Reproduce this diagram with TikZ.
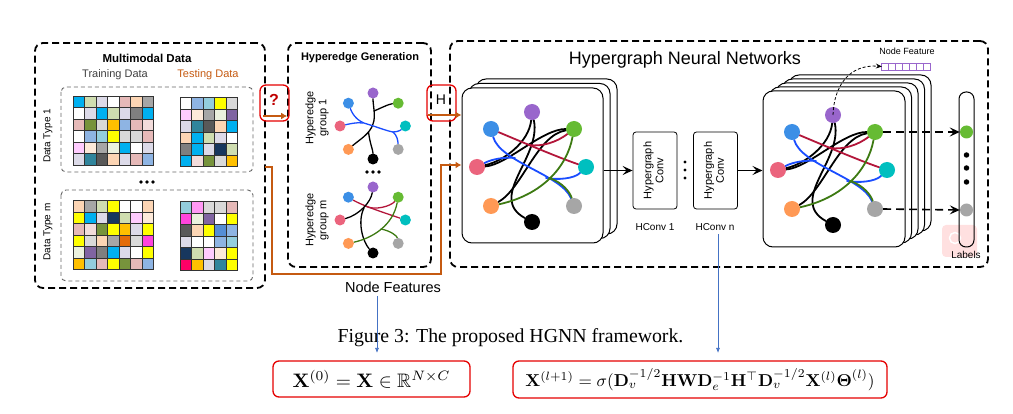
\documentclass[tikz,border=0pt]{standalone}
\usepackage{amsmath,amssymb,graphicx}
\usepackage[no-math]{fontspec}
\setmainfont{Liberation Serif}
\setsansfont{Liberation Sans}
\usetikzlibrary{arrows.meta,calc}
\pgfdeclarelayer{back}
\pgfdeclarelayer{edges}
\pgfsetlayers{back,edges,main}

% matrix cell colours
\definecolor{Qc}{HTML}{00B0F0}
\definecolor{Qg}{HTML}{CFDDB0}
\definecolor{Ql}{HTML}{DCDAE8}
\definecolor{Qw}{HTML}{FFFFFF}
\definecolor{Qp}{HTML}{E6B9B8}
\definecolor{Qe}{HTML}{FCD5B4}
\definecolor{Qj}{HTML}{FDE9D9}
\definecolor{Qy}{HTML}{A6A6A6}
\definecolor{Qd}{HTML}{595959}
\definecolor{Qf}{HTML}{7F7F7F}
\definecolor{Qo}{HTML}{77933C}
\definecolor{Qa}{HTML}{FFC000}
\definecolor{Qb}{HTML}{8EB4E3}
\definecolor{Qt}{HTML}{31859C}
\definecolor{Qk}{HTML}{D9D9D9}
\definecolor{Qs}{HTML}{F2DCDB}
\definecolor{Qm}{HTML}{FFCCFF}
\definecolor{QM}{HTML}{FF99F5}
\definecolor{Qr}{HTML}{FF44DD}
\definecolor{Qu}{HTML}{FFFF00}
\definecolor{Qn}{HTML}{17375E}
\definecolor{Qv}{HTML}{8064A2}
\definecolor{Qx}{HTML}{E46C0A}
\definecolor{Qh}{HTML}{93CDDD}
\definecolor{Qi}{HTML}{EBF1DE}
\definecolor{Qq}{HTML}{FF0066}
\definecolor{Qz}{HTML}{558ED5}
% vertex and hyperedge colours
\definecolor{hpu}{HTML}{9966CC}
\definecolor{hbl}{HTML}{3C8FE6}
\definecolor{hgr}{HTML}{66BB33}
\definecolor{hpk}{HTML}{EB647D}
\definecolor{hcy}{HTML}{00BFBF}
\definecolor{hor}{HTML}{FF9955}
\definecolor{hgy}{HTML}{A6A6A6}
\definecolor{hbk}{HTML}{000000}
\definecolor{ered}{HTML}{B3163A}
\definecolor{eblue}{HTML}{1A4DFF}
\definecolor{egreen}{HTML}{3D7A12}
\definecolor{brn}{HTML}{C55A11}
\definecolor{arrblue}{HTML}{4472C4}

\newcommand{\datagrid}[3]{%
  \foreach \row [count=\j] in {#3}{%
    \foreach \cl [count=\i] in \row{%
      \filldraw[fill=Q\cl, draw=black!80, line width=0.9pt] ({#1+(\i-1)*11.5},{#2+(\j-1)*11.5}) rectangle ++(11.5,11.5);
    }
  }
}
\newcommand{\hnodes}[4]{%
  \foreach \nm/\px/\py/\col in {pu/0/-55/hpu,bl/-41/-38/hbl,gr/42/-38/hgr,pk/-55/0/hpk,cy/54/0/hcy,or/-41/39/hor,gy/42/39/hgy,bk/0/55/hbk}
    \node[#4, fill=\col] (#1\nm) at ($(#2)+({#3*\px},{#3*\py})$) {};
}
\newcommand{\bigedges}[1]{%
  \draw[be] (#1pu) .. controls (-3,-25) and (-28,-6) .. (#1pk);
  \draw[be] (#1gr) .. controls (10,-38) and (-25,-2) .. (#1pk);
  \draw[be] (#1pu) .. controls (10,-10) and (-45,30) .. (#1bk);
  \draw[be] (#1gr) .. controls (5,-32) and (-10,22) .. (#1or);
  \draw[be, ered] (#1bl) .. controls (-10,-25) and (25,-10) .. (#1cy);
  \draw[be, ered] (#1gr) .. controls (25,-25) and (10,-20) .. (-3,-22);
  \draw[be, eblue] (#1bl) .. controls (-32,-5) and (30,8) .. (#1gy);
  \draw[be, eblue] (#1pk) .. controls (-40,-8) and (-28,-10) .. (-17,-9);
  \draw[be, eblue] (#1cy) .. controls (42,12) and (25,13) .. (14,11);
  \draw[be, egreen] (#1gr) .. controls (35,0) and (10,28) .. (#1or);
  \draw[be, egreen] (17,11) .. controls (30,15) and (38,25) .. (#1gy);
}

\begin{document}
\begin{tikzpicture}[x=1pt,y=-1pt,
  panel/.style={draw, line width=1.8pt, dash pattern=on 7pt off 4pt, rounded corners=8pt, inner sep=0pt},
  dbox/.style={draw=black!60, line width=0.9pt, dash pattern=on 4pt off 3pt, rounded corners=5pt},
  card/.style={draw, fill=white, line width=1pt, rounded corners=10pt, inner sep=0pt},
  conv/.style={draw, line width=0.8pt, rounded corners=3pt, minimum width=44pt, minimum height=77pt, inner sep=0pt, font=\sffamily\fontsize{11}{12}\selectfont},
  bv/.style={circle, inner sep=0pt, minimum size=16pt},
  sv/.style={circle, inner sep=0pt, minimum size=11pt},
  be/.style={line width=1.8pt, line cap=round},
  se/.style={line width=1.3pt, line cap=round},
  dotc/.style={circle, fill, inner sep=0pt, minimum size=#1},
  dotc/.default=3.6pt,
  ttl/.style={font=\sffamily\bfseries\fontsize{11.5}{13}\selectfont},
  lbl/.style={font=\sffamily\fontsize{#1}{13}\selectfont},
  lbl/.default=11,
  arr/.style={-{Stealth[length=10pt,width=9pt,inset=4pt]}, line width=1.6pt},
  dasharr/.style={arr, dash pattern=on 8pt off 5pt},
  brarr/.style={draw=brn, line width=2pt, -{Latex[length=6pt,width=7pt]}},
  bluearr/.style={draw=arrblue, line width=0.7pt, -{Latex[length=5pt,width=4pt]}},
  redbox/.style={draw=red!90!black, line width=1.3pt, rounded corners=6pt, inner sep=0pt}]
\useasboundingbox (0,0) rectangle (1013,414);

% panels
\node[panel, minimum width=230pt, minimum height=245pt] (pmm) at (150,165.5) {};
\node[panel, minimum width=143pt, minimum height=224pt] (phe) at (359.5,155) {};
\node[panel, minimum width=538pt, minimum height=226pt] (phg) at (719,154) {};

% multimodal data
\node[ttl] (tmm) at (147,58) {Multimodal Data};
\node[lbl, text=black!75] (ttr) at (115,75) {Training Data};
\node[lbl, text=brn] (tte) at (208,75) {Testing Data};
\draw[dbox] (61,87) rectangle (253,172);
\draw[dbox] (61,190) rectangle (253,281);
\node[lbl=10, rotate=90] (dt1) at (48,136) {Data Type 1};
\node[lbl=10, rotate=90] (dtm) at (48,232) {Data Type m};
\datagrid{73}{96}{{c,g,l,w,p,e,y},{w,l,c,g,l,f,c},{p,o,k,a,b,p,s},{w,b,h,u,k,k,p},{m,j,y,i,c,w,l},{l,t,d,e,l,p,b}}
\datagrid{180}{97.5}{{w,b,h,u,k},{m,j,y,i,v},{l,t,d,e,c},{e,c,g,l,w},{f,c,l,n,g},{c,s,o,k,a}}
\datagrid{73}{200.5}{{e,y,g,u,w,w,e},{u,c,l,n,g,m,j},{p,s,o,u,a,l,u},{u,k,e,y,x,k,r},{i,v,f,c,l,w,u},{a,h,p,u,o,p,b}}
\datagrid{180}{201.5}{{h,M,k,k,p},{r,i,v,w,u},{d,e,u,z,b},{l,w,w,b,h},{n,g,m,j,u},{q,a,l,t,u}}
\foreach \k in {141,147,153} \node[dotc] at (\k,182) {};

% hyperedge generation
\node[ttl, font=\sffamily\bfseries\fontsize{11}{13}\selectfont] (the) at (360,58) {Hyperedge Generation};
\node[lbl, rotate=90, align=center] (hg1) at (317,118) {Hyperedge\\group 1};
\node[lbl, rotate=90, align=center] (hgm) at (317,220) {Hyperedge\\group m};
\hnodes{A}{373,126}{0.6}{sv}
\hnodes{B}{373,220}{0.6}{sv}
\foreach \k in {367,373,379} \node[dotc] at (\k,172) {};
\begin{pgfonlayer}{edges}
\begin{scope}[shift={(373,126)}]
  \draw[se] (Apu) .. controls (0,-20) and (3,-10) .. (0,-2) .. controls (-3,8) and (-14,14) .. (Aor);
  \draw[se] (1,-15) .. controls (8,-18) and (16,-22) .. (Agr);
  \draw[se] (-4.5,6) .. controls (-3,18) and (0,24) .. (Abk);
  \draw[se, eblue] (Abl) .. controls (-20,-10) and (-14,-4) .. (-6,-2) .. controls (4,1) and (14,5) .. (20,6);
  \draw[se, eblue] (Apk) .. controls (-24,-2) and (-16,-4) .. (-10,-3);
  \draw[se, eblue] (20,6) .. controls (26,6) and (29,3) .. (Acy);
  \draw[se, eblue] (20,6) .. controls (24,9) and (25,15) .. (Agy);
\end{scope}
\begin{scope}[shift={(373,220)}]
  \draw[se, ered] (Bbl) .. controls (-10,-14) and (15,-6) .. (Bcy);
  \draw[se, ered] (-8,-14) .. controls (2,-9) and (18,-14) .. (Bgr);
  \draw[se] (Bpu) .. controls (-2,-18) and (-14,-5) .. (Bpk);
  \draw[se] (-9,-12) .. controls (-16,2) and (-10,22) .. (Bbk);
  \draw[se, egreen] (Bor) .. controls (0,18) and (20,5) .. (Bgr);
  \draw[se, egreen] (8,9) .. controls (18,11) and (24,16) .. (Bgy);
\end{scope}
\end{pgfonlayer}

% hypergraph neural networks
\node[lbl=18] (thg) at (685,60) {Hypergraph Neural Networks};
\begin{pgfonlayer}{back}
  \foreach \k in {2,1}
    \node[card, minimum width=141pt, minimum height=155pt] at ({532.5+7*\k},{165.5-4.5*\k}) {};
  \node[card, minimum width=141pt, minimum height=155pt] (cardL) at (532.5,165.5) {};
  \foreach \k in {4,3,2,1}
    \node[card, minimum width=142pt, minimum height=156pt] at ({834+6.5*\k},{169-4*\k}) {};
  \node[card, minimum width=142pt, minimum height=156pt] (cardR) at (834,169) {};
  \fill[red!12, rounded corners=4pt] (942,225) rectangle (977,257);
  \draw[white, line width=1.5pt] (955,238) circle (5.5);
\end{pgfonlayer}
\hnodes{L}{532,167}{1}{bv}
\hnodes{R}{833,170}{1}{bv}
\begin{pgfonlayer}{edges}
  \begin{scope}[shift={(532,167)}] \bigedges{L} \end{scope}
  \begin{scope}[shift={(833,170)}] \bigedges{R} \end{scope}
\end{pgfonlayer}

\node[conv] (hc1) at (655,170.5) {\rotatebox{90}{\begin{tabular}{@{}c@{}}Hypergraph\\Conv\end{tabular}}};
\node[conv] (hcn) at (715.5,170.5) {\rotatebox{90}{\begin{tabular}{@{}c@{}}Hypergraph\\Conv\end{tabular}}};
\node[lbl=10] (hc1l) at (655,227) {HConv 1};
\node[lbl=10] (hcnl) at (715,227) {HConv n};
\foreach \k in {162,170,178} \node[dotc=3.4pt] at (685,\k) {};
\draw[arr] (cardL.east |- hc1.west) -- (hc1.west);
\draw[arr] (hcn.east) -- (cardR.west |- hcn.east);

% node feature and labels
\node[lbl=9] (tnf) at (907,51) {Node Feature};
\node[minimum width=49pt, minimum height=7pt, inner sep=0pt] (nfeat) at (906.5,66.5) {};
\foreach \k in {0,...,6}
  \draw[draw=hpu, line width=0.8pt] ($(nfeat.south west)+(7*\k,0)$) rectangle ++(7,-7);
\draw[line width=0.8pt, dash pattern=on 3pt off 2pt, -{Stealth[length=6pt,width=5pt,inset=2pt]}] (Rpu.center) .. controls (834,85) and (850,64) .. (nfeat.west);
\node[draw, line width=1pt, rounded corners=7pt, minimum width=15pt, minimum height=155pt, inner sep=0pt] (lab) at (966.5,169.5) {};
\node[circle, fill=hgr, minimum size=13pt, inner sep=0pt] (lgr) at (966.5,132) {};
\node[circle, fill=hgy, minimum size=13pt, inner sep=0pt] (lgy) at (966.5,210) {};
\foreach \k in {155,168,182} \node[dotc=5.5pt] at (966.5,\k) {};
\node[lbl=10] (tlab) at (966,255) {Labels};
\draw[dasharr] (Rgr.east) -- (lgr.west);
\draw[dasharr] (Rgy.east) -- (lgy.west);

% structure and features into the network
\node[redbox, minimum width=29pt, minimum height=36pt] (qbox) at (274.5,103) {};
\node[font=\sffamily\bfseries\fontsize{16}{18}\selectfont, text=red!75!black] (qm) at (274,100) {?};
\node[redbox, minimum width=29pt, minimum height=36pt] (hbox) at (441.5,103) {};
\node[lbl=14] (hm) at (441,100) {H};
\coordinate (q0) at (263,116);
\coordinate (h0) at (428,115);
\draw[brarr] (q0) -- (phe.west |- q0);
\draw[brarr] (h0) -- (cardL.west |- h0);
\coordinate (nf0) at (265,167);
\coordinate (nf1) at (441,165);
\draw[brarr, line width=2.8pt] (nf0) -- (272,167) -- (272,274) -| (nf1) -- (cardL.west |- nf1);
\node[lbl=14.5] (tnfs) at (393,287) {Node Features};

% caption and formulas
\node[font=\rmfamily\fontsize{19.8}{22}\selectfont, anchor=base] (cap) at (510.5,343) {Figure 3: The proposed HGNN framework.};
\node[redbox, minimum width=197pt, minimum height=36pt] (f1) at (371.5,379) {\scalebox{1.95}{$\mathbf{X}^{(0)}=\mathbf{X}\in\mathbb{R}^{N\times C}$}};
\node[redbox, minimum width=374pt, minimum height=37pt] (f2) at (700,379.5) {\scalebox{1.72}{$\mathbf{X}^{(l+1)}=\sigma(\mathbf{D}_v^{-1/2}\mathbf{H}\mathbf{W}\mathbf{D}_e^{-1}\mathbf{H}^\top\mathbf{D}_v^{-1/2}\mathbf{X}^{(l)}\boldsymbol{\Theta}^{(l)})$}};
\coordinate (a1) at (377,353);
\coordinate (a2) at (718,353);
\draw[bluearr] (tnfs.south -| a1) -- (a1);
\draw[bluearr] (hcnl.south -| a2) -- (a2);
\end{tikzpicture}
\end{document}
